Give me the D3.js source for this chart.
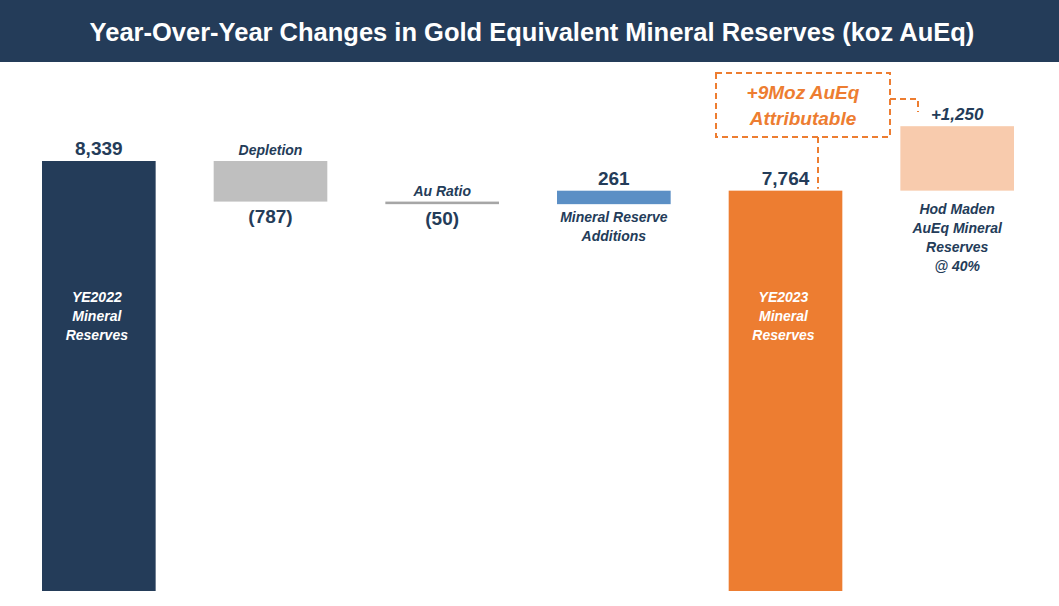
<!DOCTYPE html>
<html>
<head>
<meta charset="utf-8">
<script src="https://cdn.jsdelivr.net/npm/d3@7"></script>
<style>
body { margin: 0; background: #fff; }
text { font-family: Arial, "Liberation Sans", sans-serif; }
</style>
</head>
<body>
<svg></svg>
<script>
const width = 1059;
const height = 606;
const baseline = 591;
const navy = '#243c59';

// waterfall steps: start/end values in koz AuEq
let values = [
    {key: 'ye22', value: 8339, type: 'total', color: navy, label: '8,339', inside: ['YE2022', 'Mineral', 'Reserves']},
    {key: 'dep', value: -787, type: 'step', color: '#bfbfbf', label: '(787)', name: ['Depletion']},
    {key: 'au', value: -50, type: 'step', color: '#a6a6a6', label: '(50)', name: ['Au Ratio']},
    {key: 'add', value: 261, type: 'step', color: '#5b8fc5', label: '261', name: ['Mineral Reserve', 'Additions']},
    {key: 'ye23', value: 7764, type: 'total', color: '#ed7d31', label: '7,764', inside: ['YE2023', 'Mineral', 'Reserves']},
    {key: 'hod', value: 1250, type: 'step', color: '#f8cbad', label: '+1,250', name: ['Hod Maden', 'AuEq Mineral', 'Reserves', '@ 40%']}
];

let running = 0;
values.forEach(d => {
    if (d.type === 'total') { d.start = 0; d.end = d.value; running = d.value; }
    else { d.start = running; d.end = running + d.value; running = d.end; }
});

let svg = d3.select('svg').attr('width', width).attr('height', height);

let xScale = d3.scaleBand()
    .domain(values.map(d => d.key))
    .range([42, 1014])
    .paddingInner(0.338)
    .paddingOuter(0);

let yScale = d3.scaleLinear()
    .domain([0, 8339])
    .range([baseline, 161]);

// title bar
svg.append('rect').attr('x', 0).attr('y', 0).attr('width', width).attr('height', 62).attr('fill', navy);
svg.append('text').attr('x', 532).attr('y', 41).attr('text-anchor', 'middle')
    .attr('fill', '#fff').attr('font-weight', 'bold').attr('font-size', 25.5)
    .text('Year-Over-Year Changes in Gold Equivalent Mineral Reserves (koz AuEq)');

// bars
svg.selectAll('rect.bar')
    .data(values)
    .enter()
    .append('rect')
    .attr('class', 'bar')
    .attr('x', d => xScale(d.key))
    .attr('width', xScale.bandwidth())
    .attr('y', d => yScale(Math.max(d.start, d.end)))
    .attr('height', d => Math.max(2, Math.abs(yScale(d.start) - yScale(d.end))))
    .attr('fill', d => d.color);

let cx = d => xScale(d.key) + xScale.bandwidth() / 2;

values.forEach(d => {
    let top = yScale(Math.max(d.start, d.end));
    let bottom = yScale(Math.min(d.start, d.end));
    let italic = d.key === 'hod';
    if (d.value < 0) {
        // negative: value below, name above
        svg.append('text').attr('x', cx(d)).attr('y', bottom + 21).attr('text-anchor', 'middle')
            .attr('fill', navy).attr('font-weight', 'bold').attr('font-size', 19).text(d.label);
        svg.append('text').attr('x', cx(d)).attr('y', top - 6).attr('text-anchor', 'middle')
            .attr('fill', navy).attr('font-weight', 'bold').attr('font-style', 'italic').attr('font-size', 14)
            .text(d.name[0]);
    } else {
        svg.append('text').attr('x', cx(d)).attr('y', top - 6).attr('text-anchor', 'middle')
            .attr('fill', navy).attr('font-weight', 'bold').attr('font-style', italic ? 'italic' : 'normal')
            .attr('font-size', italic ? 17 : 19).text(d.label);
        if (d.name) {
            let startY = d.key === 'hod' ? bottom + 23 : bottom + 18;
            d.name.forEach((t, i) => {
                svg.append('text').attr('x', cx(d)).attr('y', startY + i * 19).attr('text-anchor', 'middle')
                    .attr('fill', navy).attr('font-weight', 'bold').attr('font-style', 'italic').attr('font-size', 14)
                    .text(t);
            });
        }
    }
    if (d.inside) {
        d.inside.forEach((t, i) => {
            svg.append('text').attr('x', cx(d) - 2).attr('y', 302 + i * 19).attr('text-anchor', 'middle')
                .attr('fill', '#fff').attr('font-weight', 'bold').attr('font-style', 'italic').attr('font-size', 14)
                .text(t);
        });
    }
});

// dashed callout
let orange = '#ed7d31';
svg.append('rect').attr('x', 716).attr('y', 73).attr('width', 174).attr('height', 64)
    .attr('fill', 'none').attr('stroke', orange).attr('stroke-width', 2).attr('stroke-dasharray', '6,4');
svg.append('text').attr('x', 803).attr('y', 99).attr('text-anchor', 'middle').attr('fill', orange)
    .attr('font-weight', 'bold').attr('font-style', 'italic').attr('font-size', 19).text('+9Moz AuEq');
svg.append('text').attr('x', 803).attr('y', 125).attr('text-anchor', 'middle').attr('fill', orange)
    .attr('font-weight', 'bold').attr('font-style', 'italic').attr('font-size', 19).text('Attributable');
svg.append('path').attr('d', `M818,137 V${yScale(7764) - 2}`)
    .attr('fill', 'none').attr('stroke', orange).attr('stroke-width', 2).attr('stroke-dasharray', '6,4');
svg.append('path').attr('d', 'M890,99 H918 V112')
    .attr('fill', 'none').attr('stroke', orange).attr('stroke-width', 2).attr('stroke-dasharray', '6,4');
</script>
</body>
</html>
